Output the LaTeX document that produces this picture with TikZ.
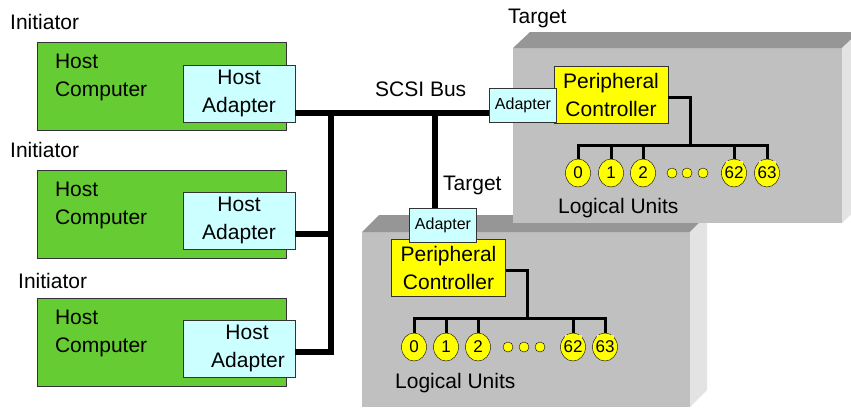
\documentclass[tikz,border=0pt]{standalone}
\usepackage{fontspec}
\setmainfont{Liberation Sans}
\usetikzlibrary{positioning,shapes.geometric}
\definecolor{hostgreen}{RGB}{102,204,51}
\definecolor{adaptcyan}{RGB}{204,255,255}
\definecolor{lunyellow}{RGB}{255,255,0}
\definecolor{boxfront}{RGB}{192,192,192}
\definecolor{boxtop}{RGB}{150,150,150}
\definecolor{boxside}{RGB}{227,227,227}

\begin{document}
\begin{tikzpicture}
   [x=1pt,y=-1pt,
    every node/.style={font=\fontsize{21}{28}\selectfont},
    host/.style={draw=black!80,fill=hostgreen,minimum width=249pt,minimum height=88pt,inner sep=0pt},
    hadapt/.style={draw=black!80,fill=adaptcyan,minimum width=112pt,minimum height=57pt,inner sep=0pt,align=center},
    tadapt/.style={draw=black!80,fill=adaptcyan,minimum width=67pt,minimum height=34pt,inner sep=0pt,font=\fontsize{16}{18}\selectfont},
    periph/.style={draw=black!80,fill=lunyellow,minimum width=114pt,minimum height=57pt,inner sep=0pt,align=center},
    lun/.style={ellipse,draw=black,fill=lunyellow,minimum width=25pt,minimum height=28pt,inner sep=0pt,font=\fontsize{17}{18}\selectfont},
    luntext/.style={inner sep=0pt,font=\fontsize{17}{18}\selectfont},
    ludot/.style={circle,draw=black,fill=lunyellow,minimum size=10pt,inner sep=0pt},
    lbl/.style={anchor=base west,inner sep=0pt},
    bus/.style={line width=6pt},
    tree/.style={line width=3pt}]
   \useasboundingbox (0,0) rectangle (851,408);
   \clip (0,0) rectangle (851,408);

   \fill[boxfront] (362,232) rectangle ++(328,175);
   \fill[boxtop] (362,232) -- ++(17,-17) -- ++(328,0) -- ++(-17,17) -- cycle;
   \fill[boxside] (690,232) -- ++(17,-17) -- ++(0,175) -- ++(-17,17) -- cycle;

   \fill[boxfront] (513,48) rectangle ++(329,175);
   \fill[boxtop] (513,48) -- ++(17,-16) -- ++(329,0) -- ++(-17,16) -- cycle;
   \fill[boxside] (842,48) -- ++(17,-16) -- ++(0,175) -- ++(-17,16) -- cycle;

   \node[lbl] (ini1) at (10,29) {Initiator};
   \node[lbl] (ini2) at (10,157) {Initiator};
   \node[lbl] (ini3) at (18,288) {Initiator};
   \node[lbl] (tgt1) at (508,23) {Target};
   \node[lbl] (tgt2) at (443,190) {Target};
   \node[lbl] (scsi) at (375,96) {SCSI Bus};
   \node[lbl] (lus1) at (558,213) {Logical Units};
   \node[lbl] (lus2) at (395,388) {Logical Units};

   \node[host] (hc1) at (161.5,86.5) {};
   \node[host] (hc2) at (161.5,214) {};
   \node[host] (hc3) at (161.5,342) {};
   \foreach \n in {1,2,3}
      \node[anchor=north west,inner sep=0pt,align=left] (hct\n) at ([xshift=18pt,yshift=-12pt]hc\n.north west) {Host\\Computer};
   \node[hadapt] (ha1) at (239,93.5) {Host\\Adapter};
   \node[hadapt] (ha2) at (239,220.5) {Host\\Adapter};
   \node[hadapt] (ha3) at (239,348.5) {\hspace*{16pt}Host\\\hspace*{18pt}Adapter};

   \node[periph] (pc1) at (611,94.5) {Peripheral\\Controller};
   \node[tadapt] (ta1) at (523,105) {Adapter};
   \node[periph] (pc2) at (448.5,268) {Peripheral\\Controller};
   \node[tadapt] (ta2) at (443,225) {Adapter};

   \foreach \x/\u in {578/0,611/1,643/2}
      \node[lun] (lu1-\u) at (\x,173) {\u};
   \foreach \x/\u in {734/62,767/63} {
      \node[lun] (lu1-\u) at (\x,173) {};
      \fill[lunyellow] ([xshift=-8.5pt,yshift=-2pt]lu1-\u.north) rectangle ++(17,9);
      \node[luntext] (lt1-\u) at (lu1-\u) {\u};
   }
   \foreach \x in {672,687,703}
      \node[ludot] (da\x) at (\x,173) {};
   \foreach \x/\u in {414/0,446/1,478/2}
      \node[lun] (lu2-\u) at (\x,347) {\u};
   \foreach \x/\u in {573/62,605/63} {
      \node[lun] (lu2-\u) at (\x,347) {};
      \fill[lunyellow] ([xshift=-8.5pt,yshift=-2pt]lu2-\u.north) rectangle ++(17,9);
      \node[luntext] (lt2-\u) at (lu2-\u) {\u};
   }
   \foreach \x in {508,524,540}
      \node[ludot] (db\x) at (\x,347) {};

   \coordinate (bustop) at (331,113);
   \coordinate (busmid) at (331,234);
   \coordinate (busbot) at (331,352);
   \coordinate (drop) at (435,113);
   \draw[bus] (ha1.east |- bustop) -- (ta1.west |- bustop);
   \draw[bus] (ha2.east |- busmid) -- (busmid);
   \draw[bus] (ha3.east |- busbot) -- (busbot) -- (bustop);
   \draw[bus] (drop) -- (drop |- ta2.north);

   \coordinate (fork1) at (690,145);
   \coordinate (fork2) at (527,318);
   \draw[tree] ([yshift=-3pt]pc1.east) -- ([yshift=-3pt]pc1.east -| fork1) -- (fork1);
   \draw[tree,line cap=rect] (lu1-0.north |- fork1) -- (lu1-63.north |- fork1);
   \foreach \u in {0,1,2,62,63}
      \draw[tree] (lu1-\u.north |- fork1) -- (lu1-\u.north);
   \draw[tree] ([yshift=-2pt]pc2.east) -- ([yshift=-2pt]pc2.east -| fork2) -- (fork2);
   \draw[tree,line cap=rect] (lu2-0.north |- fork2) -- (lu2-63.north |- fork2);
   \foreach \u in {0,1,2,62,63}
      \draw[tree] (lu2-\u.north |- fork2) -- (lu2-\u.north);
\end{tikzpicture}
\end{document}
